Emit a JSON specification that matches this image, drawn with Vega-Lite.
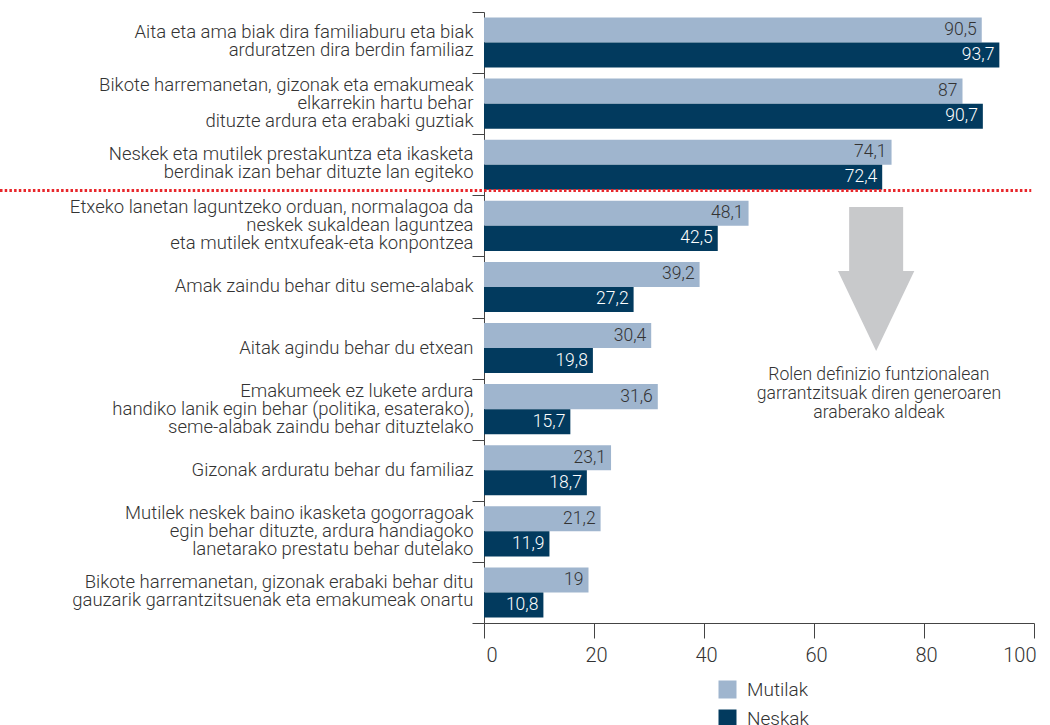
{
  "$schema": "https://vega.github.io/schema/vega-lite/v6.json",
  "autosize": "none",
  "padding": {"left": 484, "top": 12, "right": 16, "bottom": 102},
  "width": 550,
  "height": 611,
  "config": {
    "font": "Roboto",
    "view": {"stroke": null},
    "axis": {"labelFont": "Roboto", "labelFontWeight": 300, "labelColor": "#333333", "domainColor": "#444444", "tickColor": "#444444", "grid": false},
    "legend": {"labelFont": "Roboto", "labelFontWeight": 300}
  },
  "datasets": {
    "main": [
      {"cat": "Aita eta ama biak dira familiaburu eta biak|arduratzen dira berdin familiaz", "series": "Mutilak", "value": 90.5},
      {"cat": "Aita eta ama biak dira familiaburu eta biak|arduratzen dira berdin familiaz", "series": "Neskak", "value": 93.7},
      {"cat": "Bikote harremanetan, gizonak eta emakumeak|elkarrekin hartu behar|dituzte ardura eta erabaki guztiak", "series": "Mutilak", "value": 87},
      {"cat": "Bikote harremanetan, gizonak eta emakumeak|elkarrekin hartu behar|dituzte ardura eta erabaki guztiak", "series": "Neskak", "value": 90.7},
      {"cat": "Neskek eta mutilek prestakuntza eta ikasketa|berdinak izan behar dituzte lan egiteko", "series": "Mutilak", "value": 74.1},
      {"cat": "Neskek eta mutilek prestakuntza eta ikasketa|berdinak izan behar dituzte lan egiteko", "series": "Neskak", "value": 72.4},
      {"cat": "Etxeko lanetan laguntzeko orduan, normalagoa da|neskek sukaldean laguntzea|eta mutilek entxufeak-eta konpontzea", "series": "Mutilak", "value": 48.1},
      {"cat": "Etxeko lanetan laguntzeko orduan, normalagoa da|neskek sukaldean laguntzea|eta mutilek entxufeak-eta konpontzea", "series": "Neskak", "value": 42.5},
      {"cat": "Amak zaindu behar ditu seme-alabak", "series": "Mutilak", "value": 39.2},
      {"cat": "Amak zaindu behar ditu seme-alabak", "series": "Neskak", "value": 27.2},
      {"cat": "Aitak agindu behar du etxean", "series": "Mutilak", "value": 30.4},
      {"cat": "Aitak agindu behar du etxean", "series": "Neskak", "value": 19.8},
      {"cat": "Emakumeek ez lukete ardura|handiko lanik egin behar (politika, esaterako),|seme-alabak zaindu behar dituztelako", "series": "Mutilak", "value": 31.6},
      {"cat": "Emakumeek ez lukete ardura|handiko lanik egin behar (politika, esaterako),|seme-alabak zaindu behar dituztelako", "series": "Neskak", "value": 15.7},
      {"cat": "Gizonak arduratu behar du familiaz", "series": "Mutilak", "value": 23.1},
      {"cat": "Gizonak arduratu behar du familiaz", "series": "Neskak", "value": 18.7},
      {"cat": "Mutilek neskek baino ikasketa gogorragoak|egin behar dituzte, ardura handiagoko|lanetarako prestatu behar dutelako", "series": "Mutilak", "value": 21.2},
      {"cat": "Mutilek neskek baino ikasketa gogorragoak|egin behar dituzte, ardura handiagoko|lanetarako prestatu behar dutelako", "series": "Neskak", "value": 11.9},
      {"cat": "Bikote harremanetan, gizonak erabaki behar ditu|gauzarik garrantzitsuenak eta emakumeak onartu", "series": "Mutilak", "value": 19},
      {"cat": "Bikote harremanetan, gizonak erabaki behar ditu|gauzarik garrantzitsuenak eta emakumeak onartu", "series": "Neskak", "value": 10.8}
    ]
  },
  "layer": [
    {
      "data": {"name": "main"},
      "mark": {"type": "bar"},
      "encoding": {
        "y": {
          "field": "cat", "type": "nominal",
          "scale": {
            "domain": [
              "Aita eta ama biak dira familiaburu eta biak|arduratzen dira berdin familiaz",
              "Bikote harremanetan, gizonak eta emakumeak|elkarrekin hartu behar|dituzte ardura eta erabaki guztiak",
              "Neskek eta mutilek prestakuntza eta ikasketa|berdinak izan behar dituzte lan egiteko",
              "Etxeko lanetan laguntzeko orduan, normalagoa da|neskek sukaldean laguntzea|eta mutilek entxufeak-eta konpontzea",
              "Amak zaindu behar ditu seme-alabak",
              "Aitak agindu behar du etxean",
              "Emakumeek ez lukete ardura|handiko lanik egin behar (politika, esaterako),|seme-alabak zaindu behar dituztelako",
              "Gizonak arduratu behar du familiaz",
              "Mutilek neskek baino ikasketa gogorragoak|egin behar dituzte, ardura handiagoko|lanetarako prestatu behar dutelako",
              "Bikote harremanetan, gizonak erabaki behar ditu|gauzarik garrantzitsuenak eta emakumeak onartu"
            ],
            "paddingInner": 0, "paddingOuter": 0
          },
          "axis": {
            "title": null, "tickBand": "extent", "tickSize": 12, "labelPadding": -1,
            "labelExpr": "split(datum.label, '|')", "labelFontSize": 18.5, "labelLineHeight": 18,
            "labelLimit": 500, "labelAlign": "right", "labelBaseline": "middle",
            "labelOffset": {
              "condition": [
                {"test": "length(split(datum.value, '|')) == 3", "value": -19},
                {"test": "length(split(datum.value, '|')) == 2", "value": -11}
              ],
              "value": -1
            }
          }
        },
        "yOffset": {"field": "series", "type": "nominal", "sort": ["Mutilak", "Neskak"], "scale": {"paddingInner": 0, "paddingOuter": 0.22}},
        "x": {
          "field": "value", "type": "quantitative",
          "scale": {"domain": [0, 100], "nice": false},
          "axis": {"title": null, "values": [0, 20, 40, 60, 80, 100], "tickSize": 15, "labelPadding": 7, "labelFontSize": 20, "labelOffset": 2}
        },
        "color": {
          "field": "series", "type": "nominal",
          "scale": {"domain": ["Mutilak", "Neskak"], "range": ["#9fb5ce", "#023a5e"]},
          "legend": {
            "title": null, "orient": "none", "legendX": 234, "legendY": 668, "direction": "vertical",
            "symbolType": "square", "symbolSize": 324, "symbolStrokeWidth": 0, "symbolOpacity": 1,
            "labelFontSize": 19, "labelColor": "#333333", "labelOffset": 10, "rowPadding": 9
          }
        }
      }
    },
    {
      "data": {"name": "main"},
      "transform": [{"calculate": "replace(toString(datum.value), '.', ',')", "as": "lbl"}],
      "mark": {"type": "text", "align": "right", "baseline": "middle", "dx": -5, "fontSize": 17.5, "fontWeight": 300, "font": "Roboto"},
      "encoding": {
        "y": {"field": "cat", "type": "nominal"},
        "yOffset": {"field": "series", "type": "nominal", "sort": ["Mutilak", "Neskak"]},
        "x": {"field": "value", "type": "quantitative"},
        "text": {"field": "lbl"},
        "color": {"condition": {"test": "datum.series === 'Neskak'", "value": "#ffffff"}, "value": "#333333"}
      }
    },
    {
      "data": {"values": [{}]},
      "mark": {"type": "rule", "color": "#e8262b", "strokeWidth": 3, "strokeDash": [2.5, 2.2]},
      "encoding": {
        "x": {"datum": -88},
        "x2": {"datum": 99.5},
        "y": {"datum": "Etxeko lanetan laguntzeko orduan, normalagoa da|neskek sukaldean laguntzea|eta mutilek entxufeak-eta konpontzea", "type": "nominal", "bandPosition": -0.08}
      }
    },
    {
      "data": {"values": [{}]},
      "mark": {"type": "point", "filled": true, "opacity": 1, "strokeWidth": 0, "color": "#c8c9cb", "size": 20736,
        "shape": "M-0.375,-1L0.375,-1L0.375,-0.11L0.53,-0.11L0,1L-0.53,-0.11L-0.375,-0.11Z"},
      "encoding": {
        "x": {"datum": 71.3},
        "y": {"datum": "Amak zaindu behar ditu seme-alabak", "type": "nominal", "bandPosition": 0.37}
      }
    },
    {
      "data": {"values": [{}]},
      "mark": {"type": "text", "align": "center", "baseline": "middle", "fontSize": 17.6, "fontWeight": 300, "font": "Roboto", "color": "#333333", "lineBreak": "|", "lineHeight": 19,
        "text": "Rolen definizio funtzionalean|garrantzitsuak diren generoaren|araberako aldeak"},
      "encoding": {
        "x": {"datum": 71.8},
        "y": {"datum": "Aitak agindu behar du etxean", "type": "nominal", "bandPosition": 0.94}
      }
    }
  ]
}
